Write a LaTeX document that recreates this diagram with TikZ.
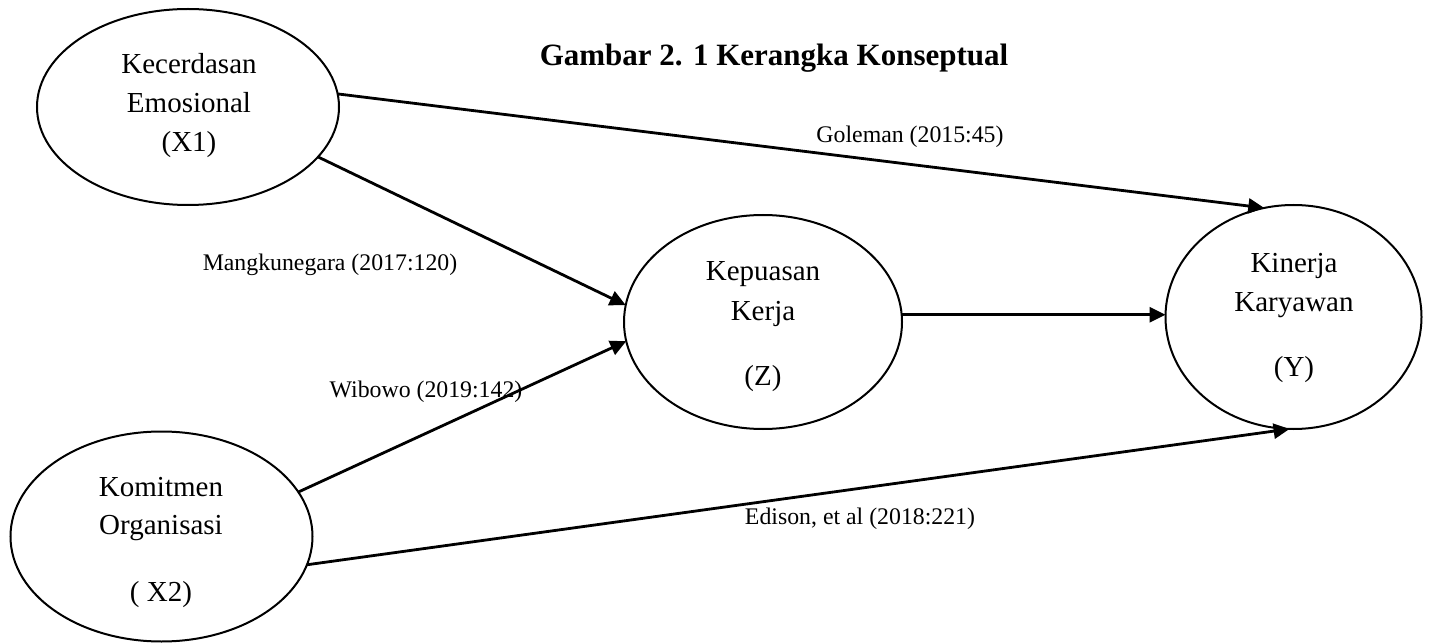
\documentclass[tikz,border=0pt]{standalone}
\usepackage{fontspec}
\setmainfont{Liberation Serif}
\usetikzlibrary{arrows.meta,shapes.geometric}
\begin{document}
\begin{tikzpicture}[x=1pt,y=-1pt,
  var/.style={ellipse, draw, line width=2pt, inner sep=0pt, outer sep=0pt},
  vartext/.style={align=center, font=\fontsize{29}{39}\selectfont, inner sep=0pt},
  cite/.style={font=\fontsize{23.8}{28}\selectfont, inner sep=0pt, anchor=base},
  heading/.style={font=\fontsize{31}{36}\selectfont\bfseries, inner sep=0pt, anchor=base},
  link/.style={line width=2.8pt, -{Triangle[length=16pt,width=15pt]}}
]
\useasboundingbox (0,0) rectangle (1430,644);

% variables
\node[var, minimum width=302pt, minimum height=196pt] (x1) at (188,107) {};
\node[var, minimum width=278pt, minimum height=214pt] (z) at (763,322) {};
\node[var, minimum width=256pt, minimum height=224pt] (y) at (1293.5,317) {};
\node[var, minimum width=302pt, minimum height=210pt] (x2) at (161.5,536.5) {};

\node[vartext] (x1-text) at (189,106) {Kecerdasan\\Emosional\\(X1)};
\node[vartext] (z-text) at (763,327) {Kepuasan\\[1pt]Kerja\\[26pt](Z)};
\node[vartext] (y-text) at (1294,318) {Kinerja\\Karyawan\\[26pt](Y)};
\node[vartext] (x2-text) at (161,542) {Komitmen\\[-1pt]Organisasi\\[28pt]( X2)};

% title
\node[heading] (title) at (774,66) {Gambar 2. 1 Kerangka Konseptual};

% relations
\draw[link] (x1.5) -- (y.105);
\draw[link] (x1.-21) -- (z.173);
\draw[link] (x2.18) -- (z.188);
\draw[link] (x2.-11) -- (y.268);
\draw[link] (z.3) -- (z.3 -| y.west);

% references
\node[cite] (c-goleman) at (910,143) {Goleman (2015:45)};
\node[cite] (c-mangku) at (330,271) {Mangkunegara (2017:120)};
\node[cite] (c-wibowo) at (426,397) {Wibowo (2019:142)};
\node[cite] (c-edison) at (860,524) {Edison, et al (2018:221)};
\end{tikzpicture}
\end{document}
